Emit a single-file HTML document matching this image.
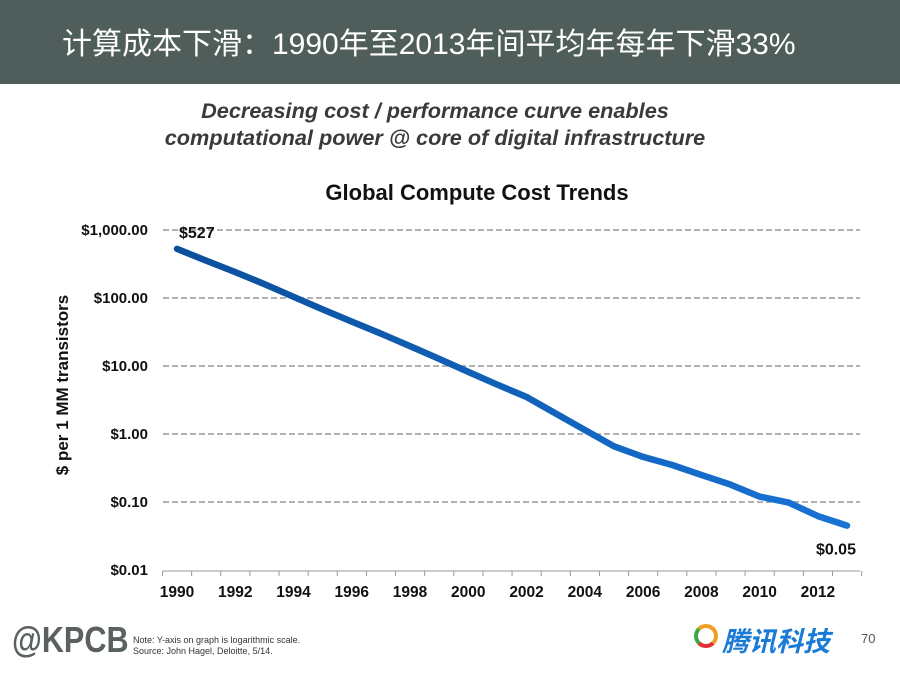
<!DOCTYPE html>
<html><head><meta charset="utf-8"><style>
body{margin:0;width:900px;height:675px;background:#fff;position:relative;overflow:hidden;font-family:"Liberation Sans","Noto Sans CJK SC",sans-serif}
.hdr{position:absolute;left:0;top:0;width:900px;height:84px;background:#4f5e5a}
.hdr div{position:absolute;left:62px;top:19px;color:#fff;font-size:30px;white-space:nowrap;font-family:"Liberation Sans","Noto Sans CJK SC",sans-serif}
.sub{position:absolute;left:0;width:870px;text-align:center;font-style:italic;font-weight:bold;color:#3a3a3a;font-size:21.7px}
</style></head><body>
<div class="hdr"><div>计算成本下滑：1990年至2013年间平均年每年下滑33%</div></div>
<div class="sub" style="top:98px">Decreasing cost / performance curve enables</div>
<div class="sub" style="top:125px">computational power @ core of digital infrastructure</div>
<svg id="chart" width="900" height="675" style="position:absolute;left:0;top:0"></svg>
<div style="position:absolute;left:12px;top:619px;font-size:36px;font-weight:bold;color:#5a6160;transform:scaleX(0.85);transform-origin:left">@KPCB</div>
<div style="position:absolute;left:133px;top:635px;font-size:9px;color:#333;line-height:11px">Note: Y-axis on graph is logarithmic scale.<br>Source: John Hagel, Deloitte, 5/14.</div>
<div style="position:absolute;left:694px;top:624px;width:24px;height:24px;border-radius:50%;border:4px solid #f0a020;border-left-color:#3aa845;border-bottom-color:#e03030;box-sizing:border-box"></div>
<div style="position:absolute;left:722px;top:620px;font-size:27px;font-weight:bold;font-style:italic;color:#1a7bd6;font-family:'Noto Sans CJK SC',sans-serif">腾讯科技</div>
<div style="position:absolute;left:861px;top:631px;font-size:13px;color:#555">70</div>
<script>
const years=[1990,1991,1992,1993,1994,1995,1996,1997,1998,1999,2000,2001,2002,2003,2004,2005,2006,2007,2008,2009,2010,2011,2012,2013];
const costs=[527,355,240,160,104,68,45,30,19.6,12.7,8.2,5.3,3.5,2.0,1.15,0.66,0.46,0.35,0.25,0.18,0.12,0.098,0.062,0.045];
const endLabels=["$527","$0.05"];
const yTicks=[1000,100,10,1,0.1,0.01];
const yTickLabels=["$1,000.00","$100.00","$10.00","$1.00","$0.10","$0.01"];
const xLabels=[1990,1992,1994,1996,1998,2000,2002,2004,2006,2008,2010,2012];
const NS="http://www.w3.org/2000/svg";
const svg=document.getElementById('chart');
const x=yr=>177+(yr-1990)*29.13;
const y=v=>434-Math.log10(v)*68;
function mk(t,a,txt){const e=document.createElementNS(NS,t);for(const k in a)e.setAttribute(k,a[k]);if(txt!=null)e.textContent=txt;svg.appendChild(e);return e;}
let e=mk('text',{x:477,y:200,'text-anchor':'middle','font-size':22,'font-weight':'bold',fill:'#111','font-family':'Liberation Sans'},'Global Compute Cost Trends');

yTicks.forEach((v,i)=>{
 if(i<yTicks.length-1){const g=mk('line',{x1:163,x2:860,y1:y(v),y2:y(v),stroke:'#999','stroke-width':1.5,'stroke-dasharray':'6 3'});
 }
 const t=mk('text',{x:148,y:y(v)+5,'text-anchor':'end','font-size':15,'font-weight':'bold',fill:'#111','font-family':'Liberation Sans'},yTickLabels[i]);
 
});
e=mk('line',{x1:163,x2:860,y1:571,y2:571,stroke:'#999','stroke-width':1});

for(let yr=1990;yr<=2014;yr++){const tk=mk('line',{x1:x(yr)-14.5,x2:x(yr)-14.5,y1:571,y2:576,stroke:'#999'});
}
xLabels.forEach(yr=>{const t=mk('text',{x:x(yr),y:597,'text-anchor':'middle','font-size':15.5,'font-weight':'bold',fill:'#111','font-family':'Liberation Sans'},yr);
});
e=mk('text',{x:0,y:0,transform:'translate(68,385) rotate(-90)','text-anchor':'middle','font-size':17,'font-weight':'bold',fill:'#111','font-family':'Liberation Sans'},'$ per 1 MM transistors');

const grad=mk('defs',{});grad.innerHTML='<linearGradient id="lg" x1="0" x2="1"><stop offset="0" stop-color="#0b4f9c"/><stop offset="1" stop-color="#1873d6"/></linearGradient>';
e=mk('path',{d:costs.map((v,i)=>(i?'L':'M')+x(years[i]).toFixed(1)+','+y(v).toFixed(1)).join(''),fill:'none',stroke:'url(#lg)','stroke-width':6.5,'stroke-linejoin':'round','stroke-linecap':'round'});

e=mk('text',{x:x(years[0])+2,y:y(costs[0])-11,'font-size':16,'font-weight':'bold',fill:'#111','font-family':'Liberation Sans'},endLabels[0]);

const last=costs.length-1;
e=mk('text',{x:x(years[last])+9,y:y(costs[last])+29,'text-anchor':'end','font-size':16,'font-weight':'bold',fill:'#111','font-family':'Liberation Sans'},endLabels[1]);

</script>
</body></html>
